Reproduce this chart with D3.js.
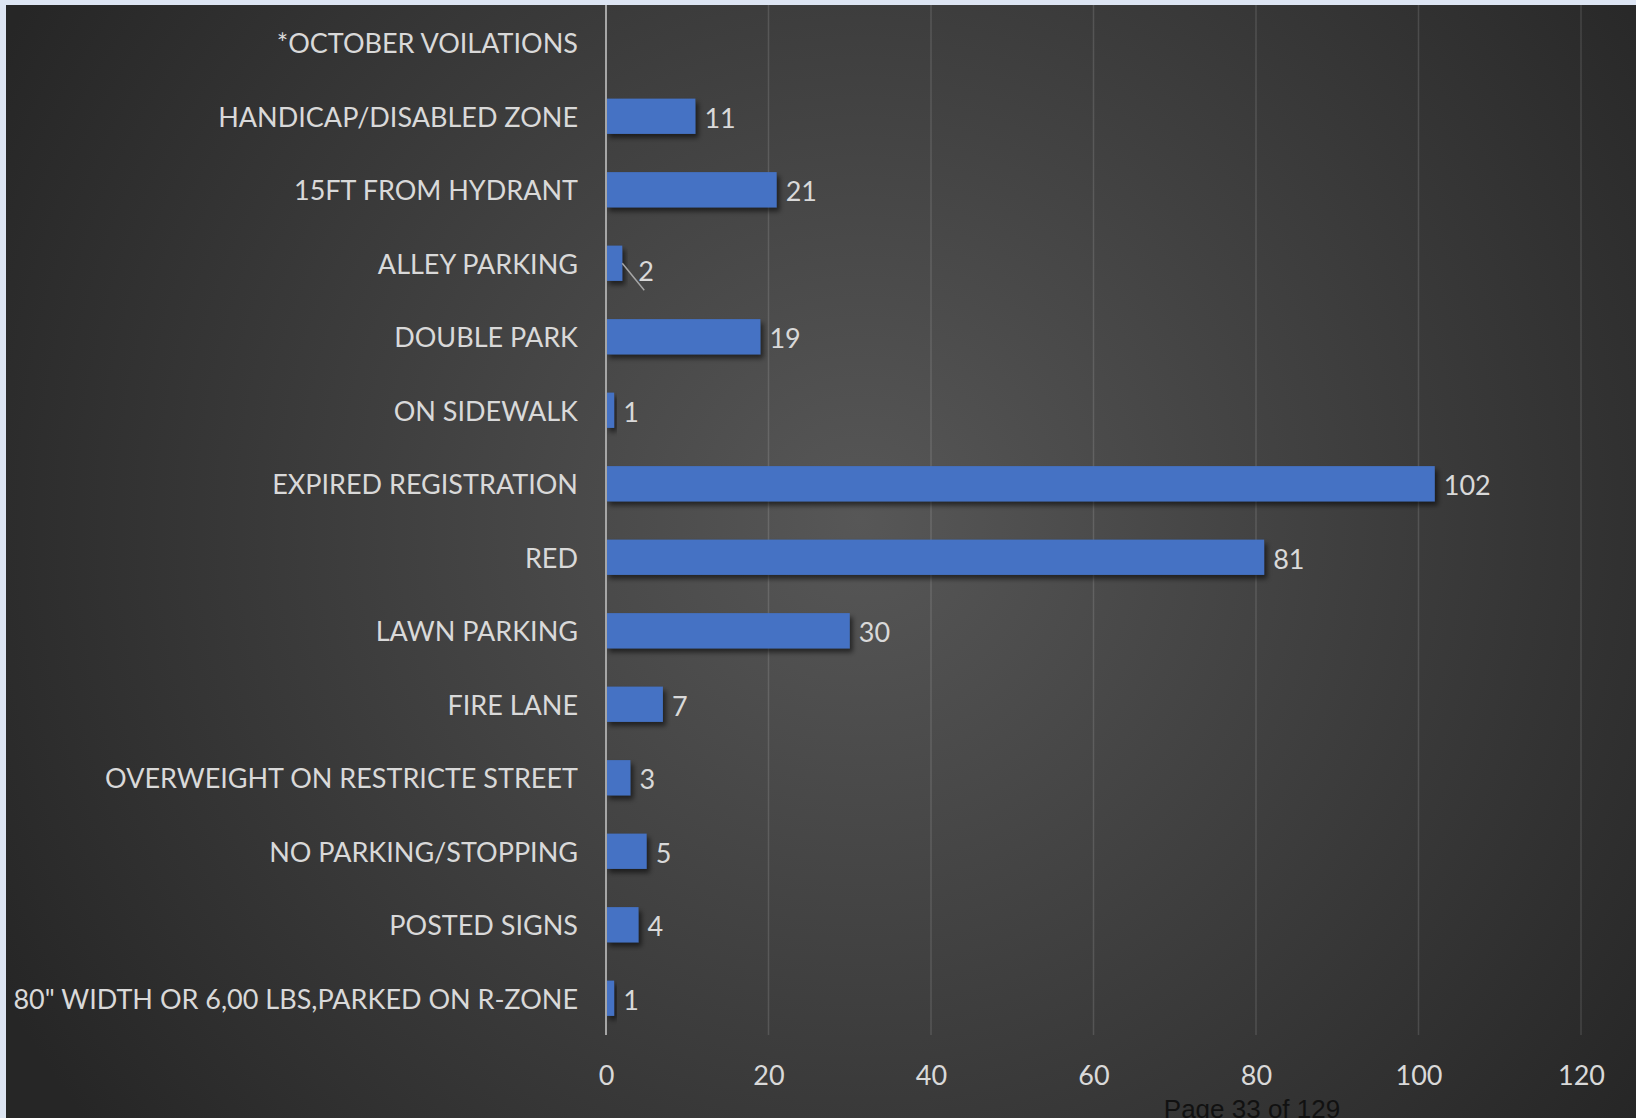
<!DOCTYPE html>
<html><head><meta charset="utf-8">
<script src="https://cdn.jsdelivr.net/npm/d3@7"></script>
<style>html,body{margin:0;padding:0;background:#dde5f3;overflow:hidden}</style>
</head><body>
<svg id="c" width="1636" height="1118"></svg>
<script>
const categories = ["*OCTOBER VOILATIONS","HANDICAP/DISABLED ZONE","15FT FROM HYDRANT","ALLEY PARKING","DOUBLE PARK","ON SIDEWALK","EXPIRED REGISTRATION","RED","LAWN PARKING","FIRE LANE","OVERWEIGHT ON RESTRICTE STREET","NO PARKING/STOPPING","POSTED SIGNS","80\" WIDTH OR 6,00 LBS,PARKED ON R-ZONE"];
const values = [null, 11, 21, 2, 19, 1, 102, 81, 30, 7, 3, 5, 4, 1];
const xTicks = [0, 20, 40, 60, 80, 100, 120];
const footer = "Page 33 of 129";

const W = 1636, H = 1118;
const svg = d3.select("#c");
const defs = svg.append("defs");
const rg = defs.append("radialGradient").attr("id","bg").attr("gradientUnits","userSpaceOnUse")
  .attr("cx", 860).attr("cy", 520).attr("r", 980);
rg.append("stop").attr("offset","0%").attr("stop-color","#575757");
rg.append("stop").attr("offset","100%").attr("stop-color","#262626");
const f = defs.append("filter").attr("id","sh").attr("x","-20%").attr("y","-30%").attr("width","150%").attr("height","180%");
f.append("feDropShadow").attr("dx",3).attr("dy",4).attr("stdDeviation",2.5).attr("flood-color","#000").attr("flood-opacity",0.55);

svg.append("rect").attr("x",6).attr("y",5).attr("width",W-6).attr("height",H-5).attr("fill","url(#bg)");

const font = "Lato, 'Open Sans', sans-serif";
const x = d3.scaleLinear().domain([0,120]).range([606,1581]);
const y = d3.scaleBand().domain(categories).range([6,1035]).paddingInner(0.52).paddingOuter(0.26);

// gridlines
svg.append("g").selectAll("line").data(xTicks.filter(t=>t>0)).join("line")
  .attr("x1",d=>x(d)).attr("x2",d=>x(d)).attr("y1",5).attr("y2",1035)
  .attr("stroke","rgba(255,255,255,0.13)").attr("stroke-width",1.5);

// bars
const rows = categories.map((c,i)=>({c, v: values[i]})).filter(d=>d.v!=null);
svg.append("g").selectAll("rect").data(rows).join("rect")
  .attr("x", x(0)).attr("y", d=>y(d.c)).attr("width", d=>x(d.v)-x(0)).attr("height", y.bandwidth())
  .attr("fill","#4472c4").attr("filter","url(#sh)");

// zero axis line
svg.append("line").attr("x1",x(0)).attr("x2",x(0)).attr("y1",5).attr("y2",1035)
  .attr("stroke","#a6a6a6").attr("stroke-width",2);

// category labels via axis
const yAxis = svg.append("g").attr("transform",`translate(${x(0)-28},2)`)
  .call(d3.axisLeft(y).tickSize(0).tickPadding(0));
yAxis.select(".domain").remove();
yAxis.selectAll("text").attr("fill","#d9d9d9").style("font-family",font).style("font-size","27px");

// x axis tick labels
const xAxis = svg.append("g").attr("transform","translate(0,1066)")
  .call(d3.axisBottom(x).tickValues(xTicks).tickSize(0).tickPadding(0));
xAxis.select(".domain").remove();
xAxis.selectAll("text").attr("fill","#d9d9d9").style("font-family",font).style("font-size","27px");

// value labels
const lab = svg.append("g");
rows.forEach(d=>{
  const cy = y(d.c)+y.bandwidth()/2 + 2;
  if (d.v === 2) {
    lab.append("line").attr("x1",x(d.v)).attr("y1",cy-2).attr("x2",x(d.v)+22).attr("y2",cy+25)
      .attr("stroke","#a6a6a6").attr("stroke-width",1.5);
    lab.append("text").attr("x",x(d.v)+16).attr("y",cy+6).attr("dy","0.35em")
      .attr("fill","#d9d9d9").style("font-family",font).style("font-size","27px").text(d.v);
  } else {
    lab.append("text").attr("x",x(d.v)+9).attr("y",cy).attr("dy","0.35em")
      .attr("fill","#d9d9d9").style("font-family",font).style("font-size","27px").text(d.v);
  }
});

svg.append("text").attr("x",1252).attr("y",1118).attr("text-anchor","middle")
  .attr("fill","#111").style("font-family","'Liberation Sans', Arial, sans-serif").style("font-size","26px").text(footer);
</script>
</body></html>
